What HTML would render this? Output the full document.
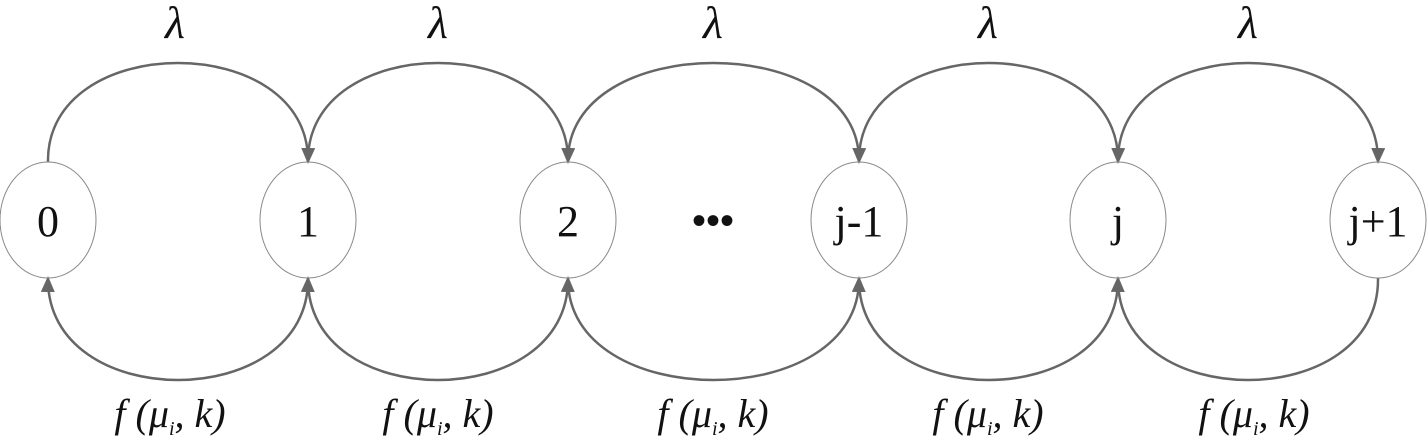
<!DOCTYPE html>
<html><head><style>body{margin:0;background:#fff} text{font-family:"Liberation Serif","Times New Roman","DejaVu Serif",serif}</style></head><body>
<svg width="1427" height="443" viewBox="0 0 1427 443" xmlns="http://www.w3.org/2000/svg">
<defs><marker id="a" markerWidth="20" markerHeight="20" refX="14" refY="7" orient="auto" markerUnits="userSpaceOnUse"><path d="M0,0 L16,7 L0,14 Z" fill="#666"/></marker></defs>
<g fill="none" stroke="#666" stroke-width="2.5">
<path d="M48 162 C46 30 310 30 308 162" marker-end="url(#a)"/>
<path d="M308 162 C306 30 570 30 568 162" marker-end="url(#a)"/>
<path d="M568 162 C566 30 861 30 859 162" marker-end="url(#a)"/>
<path d="M859 162 C857 30 1120 30 1118 162" marker-end="url(#a)"/>
<path d="M1118 162 C1116 30 1380 30 1378 162" marker-end="url(#a)"/>
<path d="M308 278 C310 414 46 414 48 278" marker-end="url(#a)"/>
<path d="M568 278 C570 414 306 414 308 278" marker-end="url(#a)"/>
<path d="M859 278 C861 414 566 414 568 278" marker-end="url(#a)"/>
<path d="M1118 278 C1120 414 857 414 859 278" marker-end="url(#a)"/>
<path d="M1378 278 C1380 414 1116 414 1118 278" marker-end="url(#a)"/>
</g>
<g fill="none" stroke="#888" stroke-width="1">
<ellipse cx="48" cy="220" rx="48" ry="58"/>
<ellipse cx="308" cy="220" rx="48" ry="58"/>
<ellipse cx="568" cy="220" rx="48" ry="58"/>
<ellipse cx="859" cy="220" rx="48" ry="58"/>
<ellipse cx="1118" cy="220" rx="48" ry="58"/>
<ellipse cx="1378" cy="220" rx="48" ry="58"/>
</g>
<g font-size="44" text-anchor="middle" fill="#111">
<text x="48" y="236">0</text><text x="308" y="236">1</text><text x="568" y="236">2</text>
<text x="859" y="236">j-1</text><text x="1118" y="236">j</text><text x="1378" y="236">j+1</text>
<text x="713" y="234" font-weight="bold" font-size="40">•••</text>
</g>
<g font-size="46" font-style="italic" text-anchor="middle" fill="#111">
<text x="175" y="38">λ</text><text x="438" y="38">λ</text><text x="713" y="38">λ</text><text x="988" y="38">λ</text><text x="1248" y="38">λ</text>
</g>
<g font-size="40" font-style="italic" text-anchor="middle" fill="#111">
<text x="170" y="427">f (μ<tspan font-size="20" dy="8">i</tspan><tspan dy="-8">, k)</tspan></text>
<text x="438" y="427">f (μ<tspan font-size="20" dy="8">i</tspan><tspan dy="-8">, k)</tspan></text>
<text x="713" y="427">f (μ<tspan font-size="20" dy="8">i</tspan><tspan dy="-8">, k)</tspan></text>
<text x="988" y="427">f (μ<tspan font-size="20" dy="8">i</tspan><tspan dy="-8">, k)</tspan></text>
<text x="1254" y="427">f (μ<tspan font-size="20" dy="8">i</tspan><tspan dy="-8">, k)</tspan></text>
</g>
</svg>
</body></html>
